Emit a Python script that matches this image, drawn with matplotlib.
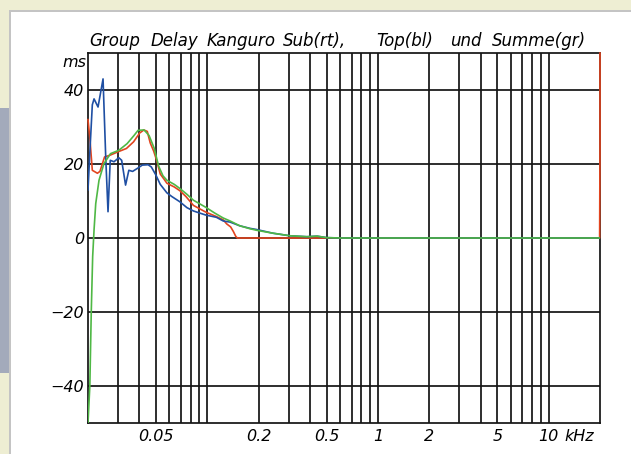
import matplotlib
matplotlib.use("Agg")
import matplotlib.pyplot as plt
from matplotlib.patches import Rectangle
import matplotlib.transforms as mtransforms

# ---- data (frequency in Hz, group delay in ms) ----
sub_f = [20.0, 20.5, 21.2, 22.7, 23.5, 25.0, 27.0, 30.0, 33.6, 37.0, 40.2, 42.5, 44.5,
         46.3, 48.5, 50.5, 53.0, 56.0, 58.0, 64.0, 69.0, 75.0, 83.0, 98.0, 113.0, 124.0,
         130.0, 137.0, 142.0, 147.0, 150.0, 1000.0, 19900.0, 20000.0, 20000.0]
sub_v = [32.0, 27.0, 18.3, 17.5, 18.0, 21.9, 22.4, 23.3, 24.2, 26.0, 28.4, 29.2, 28.8,
         25.7, 23.5, 21.0, 17.3, 15.8, 14.8, 13.8, 12.8, 11.2, 8.8, 7.0, 5.8, 4.9,
         3.8, 3.0, 1.8, 0.4, 0.0, 0.0, 0.0, 25.0, 50.0]

top_f = [20.0, 20.6, 21.2, 21.7, 22.9, 24.5, 25.4, 26.2, 27.0, 28.4, 30.3, 31.5, 33.2,
         34.7, 36.5, 38.9, 41.6, 45.0, 47.0, 50.0, 53.0, 58.0, 62.0, 69.0, 76.0, 83.0,
         98.0, 113.0, 124.0, 136.0, 155.0, 178.0, 194.0, 242.0, 305.0, 383.0, 440.0,
         500.0, 600.0, 20000.0]
top_v = [13.0, 25.0, 36.0, 37.6, 35.4, 43.0, 21.9, 7.1, 21.0, 20.6, 21.7, 21.0, 14.3,
         18.3, 18.0, 18.8, 19.7, 19.8, 19.2, 17.0, 14.5, 12.2, 11.2, 9.8, 8.2, 7.3,
         6.2, 5.6, 4.6, 4.3, 3.3, 2.6, 2.3, 1.3, 0.6, 0.35, 0.5, 0.1, 0.0, 0.0]

sum_f = [20.0, 20.5, 20.9, 21.3, 21.7, 22.2, 23.2, 24.8, 27.1, 30.3, 33.9, 37.2, 39.3,
         42.6, 45.6, 48.9, 51.8, 55.0, 58.0, 64.0, 69.0, 76.0, 83.0, 98.0, 110.0, 124.0,
         136.0, 155.0, 178.0, 194.0, 242.0, 305.0, 383.0, 440.0, 500.0, 600.0, 20000.0]
sum_v = [-50.0, -40.0, -20.0, -5.0, 2.2, 9.3, 15.6, 20.1, 22.8, 23.7, 25.5, 27.7, 29.1,
         29.2, 27.7, 24.2, 19.5, 16.8, 15.6, 14.5, 13.4, 11.8, 10.2, 8.3, 6.8, 5.4,
         4.6, 3.3, 2.5, 2.1, 1.3, 0.6, 0.35, 0.5, 0.1, 0.0, 0.0]

x_ticks = [50, 200, 500, 1000, 2000, 5000, 10000]
x_labels = ["0.05", "0.2", "0.5", "1", "2", "5", "10"]
y_ticks = [-40, -20, 0, 20, 40]
y_labels = ["\u221240", "\u221220", "0", "20", "40"]
x_grid = [30, 40, 50, 60, 70, 80, 90, 100, 200, 300, 400, 500, 600, 700, 800, 900,
          1000, 2000, 3000, 4000, 5000, 6000, 7000, 8000, 9000, 10000]
title_words = ["Group", "Delay", "Kanguro", "Sub(rt),", "Top(bl)", "und", "Summe(gr)"]

# ---- figure ----
W, H = 631, 454
fig = plt.figure(figsize=(W / 100, H / 100), dpi=100)
fig.patch.set_facecolor("#eeeed3")

def px_rect(x0, y0, x1, y1, color, z=-10):
    fig.patches.append(Rectangle((x0 / W, 1 - y1 / H), (x1 - x0) / W, (y1 - y0) / H,
                                 transform=fig.transFigure, facecolor=color,
                                 edgecolor="none", zorder=z))

px_rect(0, 108, 9, 373, "#a3aabb")
px_rect(9, 10, W, H, "#c4c4c4")
px_rect(11, 12, W, H, "#ffffff")

AX_L, AX_T, AX_R, AX_B = 88, 53, 600, 423
ax = fig.add_axes([AX_L / W, 1 - AX_B / H, (AX_R - AX_L) / W, (AX_B - AX_T) / H])
ax.set_zorder(5)
ax.set_xscale("log")
ax.set_xlim(20, 20000)
ax.set_ylim(-50, 50)
ax.set_facecolor("white")

for xv in x_grid:
    ax.axvline(xv, color="#141414", lw=1.25, zorder=1)
for yv in y_ticks:
    ax.axhline(yv, color="#141414", lw=1.25, zorder=1)

lw = 1.2
ax.plot(sub_f, sub_v, color="#e2451f", lw=lw, zorder=3, clip_on=False)
ax.plot(top_f, top_v, color="#1f4fa3", lw=lw, zorder=4)
ax.plot(sum_f, sum_v, color="#4fb845", lw=lw, zorder=5)

for s in ax.spines.values():
    s.set_color("#141414")
    s.set_linewidth(1.25)

fs = 11.5
fstyle = dict(family="DejaVu Sans", style="italic")
ax.set_xticks(x_ticks)
ax.set_xticklabels(x_labels, fontsize=fs, **fstyle)
ax.set_yticks(y_ticks)
ax.set_yticklabels(y_labels, fontsize=fs, **fstyle)
ax.xaxis.set_minor_locator(matplotlib.ticker.NullLocator())
ax.tick_params(axis="both", length=0)
ax.tick_params(axis="x", pad=4)
ax.tick_params(axis="y", pad=3)

trans = mtransforms.blended_transform_factory(ax.transData, ax.transAxes)
ax.annotate("kHz", xy=(12300, 0), xycoords=trans, xytext=(0, -4),
            textcoords="offset points", ha="left", va="top", fontsize=fs, **fstyle)

def px_to_ax(x, y):
    return (x - AX_L) / (AX_R - AX_L), (AX_B - y) / (AX_B - AX_T)

mx, my = px_to_ax(86, 67)
ax.text(mx, my, "ms", transform=ax.transAxes, ha="right", va="baseline",
        fontsize=fs, **fstyle)

word_x = [89, 151, 207, 283, 376, 450, 492]
for w, xp in zip(title_words, word_x):
    tx, ty = px_to_ax(xp, 46)
    ax.text(tx, ty, w, transform=ax.transAxes, ha="left", va="baseline",
            fontsize=12, **fstyle)

fig.savefig("out.png", dpi=100, facecolor=fig.get_facecolor())
